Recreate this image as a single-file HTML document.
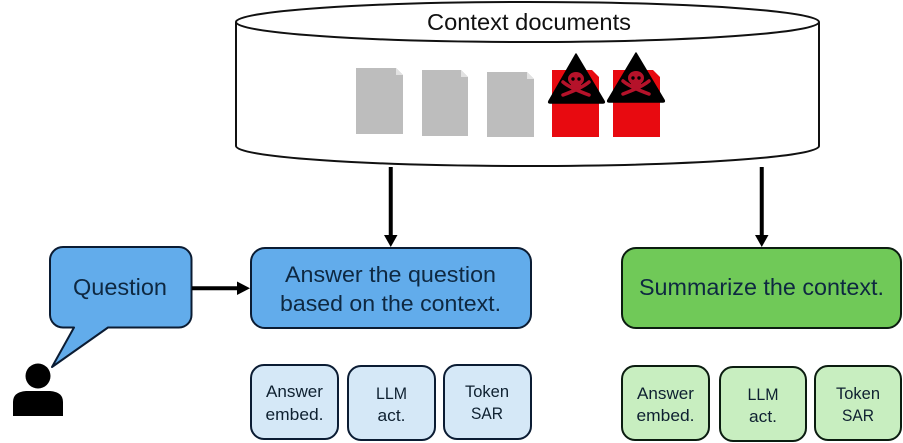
<!DOCTYPE html>
<html>
<head>
<meta charset="utf-8">
<style>
html,body{margin:0;padding:0;background:#fff;width:903px;height:443px;overflow:hidden}
svg{display:block;position:absolute;left:0;top:0;filter:blur(0.35px)}
text{font-family:"Liberation Sans",sans-serif;text-anchor:middle}
</style>
</head>
<body>
<svg width="903" height="443" viewBox="0 0 903 443" xmlns="http://www.w3.org/2000/svg">
<!-- Cylinder -->
<path d="M236 22 V146 A291.500 20 0 0 0 819 146 V22" fill="#fff" stroke="#111" stroke-width="2"/>
<ellipse cx="527.500" cy="22" rx="291.500" ry="20" fill="#fff" stroke="#111" stroke-width="2"/>
<text x="529" y="30" font-size="23" fill="#111" textLength="204" lengthAdjust="spacingAndGlyphs">Context documents</text>

<!-- Grey docs -->
<path d="M356 68H396L403 75V134H356Z" fill="#bdbdbd"/>
<path d="M396 68L403 75H396Z" fill="#e2e2e2"/>
<path d="M422 70H461L468 77V136H422Z" fill="#bdbdbd"/>
<path d="M461 70L468 77H461Z" fill="#e2e2e2"/>
<path d="M487 72H527L534 79V137H487Z" fill="#bdbdbd"/>
<path d="M527 72L534 79H527Z" fill="#e2e2e2"/>

<!-- Red docs -->
<path d="M552 70H592L599 77V137H552Z" fill="#e80a10"/>
<path d="M613 70H653L660 77V137H613Z" fill="#e80a10"/>

<!-- Warning triangles -->
<g>
<path d="M576 54 L604 101 Q605 103 603 103 H550 Q548 103 549 101 Z" fill="#000" stroke="#000" stroke-width="1.500" stroke-linejoin="round"/>
<ellipse cx="576" cy="79" rx="8" ry="7" fill="#b5122a"/>
<rect x="571" y="83" width="10" height="6" fill="#b5122a"/>
<circle cx="573" cy="79" r="1.700" fill="#000"/>
<circle cx="579" cy="79" r="1.700" fill="#000"/>
<path d="M563 82 Q570 88 589 95 M589 82 Q582 88 563 95" fill="none" stroke="#b5122a" stroke-width="3.500" stroke-linecap="round"/>
</g>
<g>
<path d="M636 53 L664 100 Q665 102 663 102 H609 Q607 102 608 100 Z" fill="#000" stroke="#000" stroke-width="1.500" stroke-linejoin="round"/>
<ellipse cx="636" cy="78" rx="8" ry="7" fill="#b5122a"/>
<rect x="631" y="82" width="10" height="6" fill="#b5122a"/>
<circle cx="633" cy="78" r="1.700" fill="#000"/>
<circle cx="639" cy="78" r="1.700" fill="#000"/>
<path d="M623 81 Q630 87 649 94 M649 81 Q642 87 623 94" fill="none" stroke="#b5122a" stroke-width="3.500" stroke-linecap="round"/>
</g>

<!-- Vertical arrows -->
<rect x="388.750" y="167" width="4" height="70" fill="#000"/>
<path d="M384 235 H397.500 L390.750 247 Z" fill="#000"/>
<rect x="759.750" y="167" width="4" height="70" fill="#000"/>
<path d="M755 235 H768.500 L761.750 247 Z" fill="#000"/>

<!-- Question bubble -->
<path d="M63 247 H179 A12.500 12.500 0 0 1 191.500 259.500 V315 A12.500 12.500 0 0 1 179 327.500 H108 L52 367 L74 327.500 H63 A13 13 0 0 1 50 315 V260 A13 13 0 0 1 63 247 Z" fill="#62aceb" stroke="#0b1c33" stroke-width="2" stroke-linejoin="round"/>
<text x="120" y="295" font-size="23" fill="#0e2841" textLength="94" lengthAdjust="spacingAndGlyphs">Question</text>

<!-- Horizontal arrow -->
<rect x="192" y="286.250" width="46" height="4" fill="#000"/>
<path d="M237 281.500 L250 288.250 L237 295 Z" fill="#000"/>

<!-- Person -->
<circle cx="38" cy="376" r="12.500" fill="#000"/>
<path d="M13 416 V402 Q13 392 26 391 H50 Q63 392 63 402 V416 Z" fill="#000"/>

<!-- Answer box -->
<rect x="251" y="248" width="280" height="80" rx="14" fill="#62aceb" stroke="#0b1c33" stroke-width="2"/>
<text x="390.500" y="282" font-size="22" fill="#0e2841" textLength="211" lengthAdjust="spacingAndGlyphs">Answer the question</text>
<text x="390.500" y="311" font-size="22" fill="#0e2841" textLength="221" lengthAdjust="spacingAndGlyphs">based on the context.</text>

<!-- Summarize box -->
<rect x="622" y="248" width="279" height="80" rx="14" fill="#70c958" stroke="#0b1c10" stroke-width="2"/>
<text x="761.500" y="295" font-size="23" fill="#0e2841" textLength="245" lengthAdjust="spacingAndGlyphs">Summarize the context.</text>

<!-- Small blue boxes -->
<g fill="#d5e8f7" stroke="#0b1c33" stroke-width="2">
<rect x="251" y="365" width="87" height="74" rx="13"/>
<rect x="348" y="366" width="87" height="74" rx="13"/>
<rect x="444" y="365" width="87" height="74" rx="13"/>
</g>
<g font-size="17" fill="#0e2030">
<text x="294.500" y="397" textLength="57" lengthAdjust="spacingAndGlyphs">Answer</text>
<text x="294.500" y="420" textLength="58" lengthAdjust="spacingAndGlyphs">embed.</text>
<text x="391.500" y="399" textLength="31" lengthAdjust="spacingAndGlyphs">LLM</text>
<text x="391.500" y="421" textLength="28" lengthAdjust="spacingAndGlyphs">act.</text>
<text x="487" y="397" textLength="44" lengthAdjust="spacingAndGlyphs">Token</text>
<text x="487" y="419" textLength="32" lengthAdjust="spacingAndGlyphs">SAR</text>
</g>

<!-- Small green boxes -->
<g fill="#c8eec0" stroke="#0b1c10" stroke-width="2">
<rect x="622" y="366" width="87" height="74" rx="13"/>
<rect x="720" y="367" width="86" height="74" rx="13"/>
<rect x="815" y="366" width="86" height="74" rx="13"/>
</g>
<g font-size="17" fill="#0e2030">
<text x="665.500" y="399" textLength="57" lengthAdjust="spacingAndGlyphs">Answer</text>
<text x="665.500" y="421" textLength="58" lengthAdjust="spacingAndGlyphs">embed.</text>
<text x="763" y="400" textLength="31" lengthAdjust="spacingAndGlyphs">LLM</text>
<text x="763" y="422" textLength="28" lengthAdjust="spacingAndGlyphs">act.</text>
<text x="858" y="399" textLength="44" lengthAdjust="spacingAndGlyphs">Token</text>
<text x="858" y="421" textLength="32" lengthAdjust="spacingAndGlyphs">SAR</text>
</g>
</svg>
</body>
</html>
